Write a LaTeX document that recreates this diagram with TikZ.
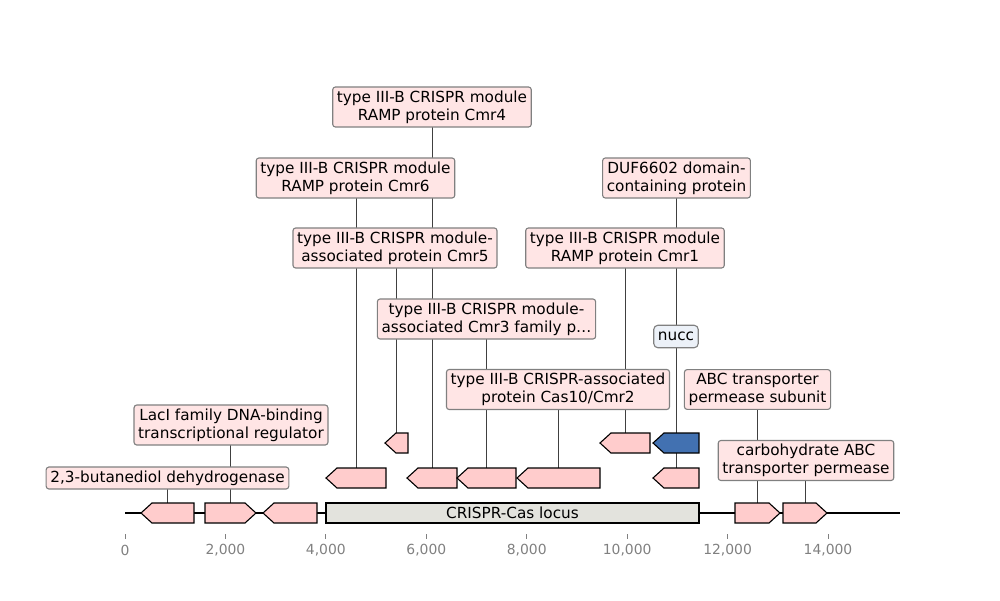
\documentclass[tikz,border=0pt]{standalone}
\usepackage{fontspec}
\setmainfont{DejaVu Sans}
\usetikzlibrary{backgrounds}
\definecolor{genepink}{RGB}{255,204,204}
\definecolor{notepink}{RGB}{255,229,229}
\definecolor{geneblue}{RGB}{66,113,177}
\definecolor{noteblue}{RGB}{236,241,248}
\definecolor{locusgray}{RGB}{227,227,221}
\tikzstyle{feature} = [draw=black, line width=0.8pt, line join=miter]
\tikzstyle{note} = [rectangle, rounded corners=2pt, draw=black!50, line width=0.8pt, fill=notepink, align=center, font=\fontsize{11}{13}\selectfont, inner xsep=3pt, inner ysep=2.6pt]
\tikzstyle{shortnote} = [note, fill=noteblue, text height=8.4pt, text depth=2.6pt, rounded corners=3pt]
\tikzstyle{link} = [draw=black!75, line width=0.5pt]
\tikzstyle{backbone} = [draw=black, line width=1.4pt]
\tikzstyle{tick} = [draw=black!50, line width=0.6pt]
\tikzstyle{ticklabel} = [text=black!50, font=\fontsize{10}{12}\selectfont]
\newcommand{\genel}[5]{%
  \draw [feature, fill=#5] (#2,#4) -- (#2+11,#4-10) -- (#3,#4-10) -- (#3,#4+10) -- (#2+11,#4+10) -- cycle;
  \coordinate (#1) at ({(#2+#3)/2},#4-10);}
\newcommand{\gener}[5]{%
  \draw [feature, fill=#5] (#2,#4-10) -- (#3-11,#4-10) -- (#3,#4) -- (#3-11,#4+10) -- (#2,#4+10) -- cycle;
  \coordinate (#1) at ({(#2+#3)/2},#4-10);}
\begin{document}
\begin{tikzpicture}[x=0.72pt, y=-0.72pt]
	\useasboundingbox (0,0) rectangle (1000,600);

	\genel{bdh}{141}{194}{513}{genepink}
	\gener{laci}{205}{256}{513}{genepink}
	\genel{hyp}{263}{317}{513}{genepink}
	\draw [feature, fill=locusgray] (326,503) rectangle (699,523);
	\node (locus) at (512.5,513) [font=\fontsize{11}{13}\selectfont] {CRISPR-Cas locus};
	\gener{abcp}{735}{780}{513}{genepink}
	\gener{carb}{783}{827}{513}{genepink}

	\genel{cmr6}{326}{386}{478}{genepink}
	\genel{cmr4}{407}{457}{478}{genepink}
	\genel{cmr3}{457}{516}{478}{genepink}
	\genel{cas10}{517}{600}{478}{genepink}
	\genel{duf}{653}{699}{478}{genepink}

	\genel{cmr5}{385}{408}{443}{genepink}
	\genel{cmr1}{600}{650}{443}{genepink}
	\genel{nucc}{653}{699}{443}{geneblue}

	\node (bdhlab) [note] at (167.5,478) {2,3-butanediol dehydrogenase};
	\node (lacilab) [note] at (231,425) {LacI family DNA-binding\\transcriptional regulator};
	\node (cmr4lab) [note] at (432,107) {type III-B CRISPR module\\RAMP protein Cmr4};
	\node (cmr6lab) [note] at (355.5,178) {type III-B CRISPR module\\RAMP protein Cmr6};
	\node (cmr5lab) [note] at (395,248) {type III-B CRISPR module-\\associated protein Cmr5};
	\node (cmr3lab) [note] at (486.5,319) {type III-B CRISPR module-\\associated Cmr3 family p…};
	\node (cas10lab) [note] at (558,389.5) {type III-B CRISPR-associated\\protein Cas10/Cmr2};
	\node (duflab) [note] at (676.5,178) {DUF6602 domain-\\containing protein};
	\node (cmr1lab) [note] at (625,248) {type III-B CRISPR module\\RAMP protein Cmr1};
	\node (nucclab) [shortnote] at (676,336.5) {nucc};
	\node (abclab) [note] at (757.5,389.5) {ABC transporter\\permease subunit};
	\node (carblab) [note] at (806,460.5) {carbohydrate ABC\\transporter permease};

	\foreach \v/\t in {0/0, 2000/{2,000}, 4000/{4,000}, 6000/{6,000}, 8000/{8,000}, 10000/{10,000}, 12000/{12,000}, 14000/{14,000}} {
		\draw [tick] ({125+\v*0.05021},534) -- ++(0,5);
		\node (t\v) [ticklabel] at ({125+\v*0.05021},550) {\t};
	}

	\begin{scope}[on background layer]
		\draw [backbone] (125,513) -- (900,513);
		\draw [link] (bdh) -- (bdh |- bdhlab);
		\draw [link] (laci) -- (laci |- lacilab);
		\draw [link] (cmr4) -- (cmr4 |- cmr4lab);
		\draw [link] (cmr6) -- (cmr6 |- cmr6lab);
		\draw [link] (cmr5) -- (cmr5 |- cmr5lab);
		\draw [link] (cmr3) -- (cmr3 |- cmr3lab);
		\draw [link] (cas10) -- (cas10 |- cas10lab);
		\draw [link] (duf) -- (duf |- duflab);
		\draw [link] (cmr1) -- (cmr1 |- cmr1lab);
		\draw [link] (nucc) -- (nucc |- nucclab);
		\draw [link] (abcp) -- (abcp |- abclab);
		\draw [link] (carb) -- (carb |- carblab);
	\end{scope}
\end{tikzpicture}
\end{document}
